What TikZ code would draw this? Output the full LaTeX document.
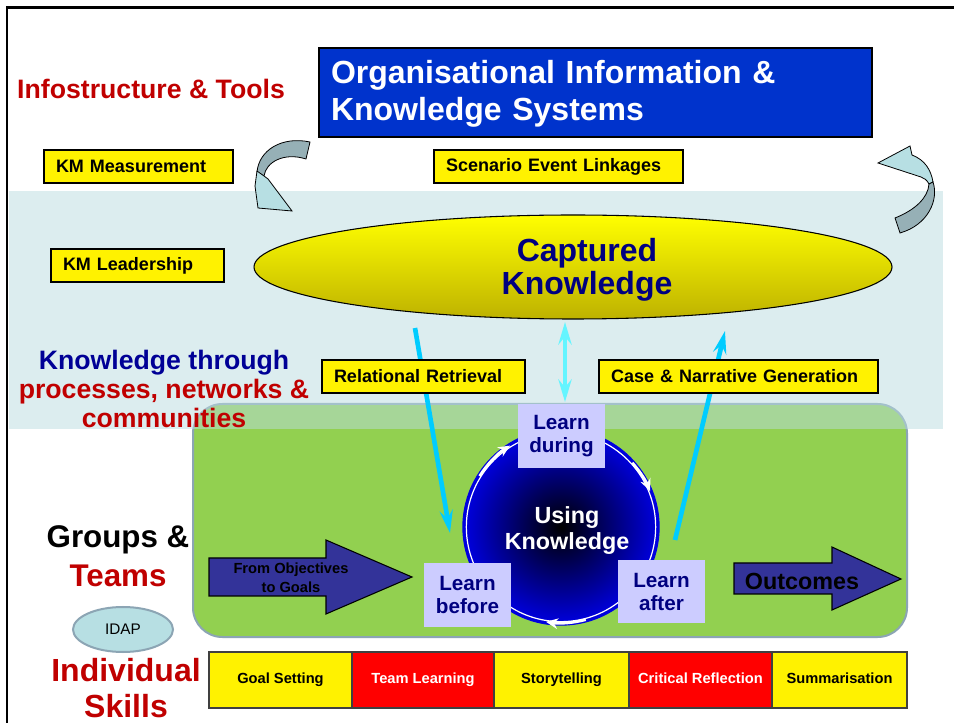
\documentclass[tikz,border=0pt]{standalone}
\usepackage{fontspec}
\setmainfont{Liberation Sans}
\usetikzlibrary{shapes.geometric,arrows.meta,fit}
\definecolor{dkred}{RGB}{192,0,0}
\definecolor{navyA}{RGB}{0,0,150}
\definecolor{navyB}{RGB}{0,0,128}
\definecolor{boxblue}{RGB}{0,51,204}
\definecolor{bandc}{RGB}{187,221,225}
\definecolor{grn}{RGB}{146,208,80}
\definecolor{grnedge}{RGB}{140,165,180}
\definecolor{lav}{RGB}{204,204,255}
\definecolor{arrblue}{RGB}{51,51,153}
\definecolor{cyanA}{RGB}{0,204,255}
\definecolor{cyanB}{RGB}{100,245,255}
\definecolor{idapc}{RGB}{183,223,227}
\definecolor{crvlight}{RGB}{183,223,227}
\definecolor{crvdark}{RGB}{150,176,182}
\definecolor{olivey}{RGB}{190,178,0}
\definecolor{cellred}{RGB}{255,0,0}
\definecolor{circblue}{RGB}{0,0,225}
\begin{document}
\begin{tikzpicture}[x=0.75pt,y=-0.75pt,
  ybox/.style={draw=black, line width=1.5pt, fill=yellow, anchor=north west,
    inner ysep=0pt, inner xsep=9pt, minimum height=24.75pt, align=left,
    font=\bfseries\fontsize{13.5}{16}\selectfont},
  cell/.style={draw=black!75, line width=0.8pt, inner sep=0pt, minimum height=42pt,
    text height=8pt, text depth=2.5pt,
    font=\bfseries\fontsize{11}{13}\selectfont},
  learnbox/.style={fill=lav, draw=none, inner sep=0pt, align=center, text=navyB,
    minimum width=65.25pt, minimum height=47.5pt,
    font=\bfseries\fontsize{15.5}{17.25}\selectfont},
  blockarrow/.style={fill=arrblue, draw=black, line width=0.8pt},
  curvearr/.style={draw=black, line width=0.6pt},
  cyanarrow/.style={cyanA, line width=3.5pt, -{Stealth[length=17pt,width=10pt,inset=6pt]}},
  whitearr/.style={white, line width=2pt, -{Stealth[length=9pt,width=8pt]}}
]
\useasboundingbox (0,0) rectangle (954,723);
\fill[white] (0,0) rectangle (954,723);

% groups & teams box
\node[fit={(193,404) (907,637)}, inner sep=0pt, rounded corners=22pt, fill=grn,
  draw=grnedge, line width=1.5pt] (grp) {};

% knowledge band
\fill[bandc, fill opacity=0.5] (9,191) rectangle (943,429);

% frame
\draw[line width=2pt] (7,723) -- (7,7.5) -- (954,7.5);

% left curved arrow
\fill[crvdark, curvearr] (310,142) .. controls (282,136) and (259,150) .. (257,172)
  -- (264,176) .. controls (266,162) and (284,152) .. (306,159) -- cycle;
\fill[crvlight, curvearr] (257,171) -- (264,176) -- (268,179) -- (292,211)
  -- (258,208) -- (255,186) -- cycle;

% right curved arrow
\fill[crvlight, curvearr] (878,163) -- (910,146) -- (912,155)
  .. controls (925,160) and (931,170) .. (933,182) -- (929,184)
  .. controls (927,180) and (924,178) .. (921,177) -- cycle;
\fill[crvdark, curvearr] (933,182) .. controls (939,200) and (928,225) .. (900,233)
  -- (895,218) .. controls (915,210) and (928,198) .. (929,184) -- cycle;

% title box
\node[draw=black, line width=1.5pt, fill=boxblue, anchor=north west, inner ysep=0pt,
  inner xsep=9pt, minimum height=66.75pt, text width=396.75pt, align=left, text=white,
  font=\bfseries\fontsize{24}{27.75}\selectfont] (oiks) at (318,47)
  {\rule{0pt}{19pt}Organisational Information \&\\Knowledge Systems};

% cyan arrows (behind yellow boxes)
\coordinate (rrS) at (415,328);
\coordinate (rrE) at (450,533);
\coordinate (caS) at (675,540);
\coordinate (caE) at (725,331);
\coordinate (dbS) at (565,322);
\coordinate (dbE) at (565,402);
\draw[cyanarrow] (rrS) -- (rrE);
\draw[cyanarrow] (caS) -- (caE);
\draw[cyanB, line width=2.8pt, {Stealth[length=17pt,width=10pt,inset=6pt]}-{Stealth[length=17pt,width=10pt,inset=6pt]}] (dbS) -- (dbE);

% yellow labels
\node[ybox, text width=123.75pt] (kmm) at (43,149) {KM Measurement};
\node[ybox, text width=168.75pt] (sel) at (433,149) {Scenario Event Linkages};
\node[ybox, text width=111.75pt] (kml) at (50,248) {KM Leadership};
\node[ybox, text width=134.25pt] (rr) at (321,359) {Relational Retrieval};
\node[ybox, text width=191.25pt] (cng) at (598,359) {Case \& Narrative Generation};

% captured knowledge
\node[ellipse, minimum width=478.5pt, minimum height=78pt, inner sep=0pt,
  top color=yellow, bottom color=olivey, draw=black, line width=0.8pt] (ck) at (573,267) {};
\node[align=center, text=navyB, font=\bfseries\fontsize{24}{24.75}\selectfont]
  (cktext) at (587,270) {Captured\\Knowledge};

% using knowledge circle
\node[circle, minimum size=147pt, inner sep=0pt, inner color=black,
  outer color=circblue, draw=circblue, line width=1pt] (uk) at (561,527) {};
\draw[white, line width=0.9pt] (uk.center) circle[radius=71pt];
\draw[whitearr] ([shift={(148:72pt)}]uk.center) arc[start angle=148, end angle=122, radius=72pt];
\draw[whitearr] ([shift={(42:72pt)}]uk.center) arc[start angle=42, end angle=22, radius=72pt];
\draw[whitearr] ([shift={(285:72pt)}]uk.center) arc[start angle=285, end angle=261, radius=72pt];
\node[align=center, text=white, font=\bfseries\fontsize{17.5}{19.5}\selectfont]
  (uktext) at (567,531) {Using\\Knowledge};

% learn boxes
\node[learnbox] (ld) at (561.5,436) {Learn\\during};
\node[learnbox] (lb) at (467.5,595) {Learn\\before};
\node[learnbox] (la) at (661.5,591.5) {Learn\\after};

% block arrows
\draw[blockarrow] (209,558) -- (326,558) -- (326,540) -- (412,577) -- (326,614)
  -- (326,596) -- (209,596) -- cycle;
\node[align=center, font=\bfseries\fontsize{11}{14.25}\selectfont] (fog) at (291,577.5)
  {From Objectives\\to Goals};
\draw[blockarrow] (734,563) -- (832,563) -- (832,547) -- (901,579) -- (832,610)
  -- (832,594) -- (734,594) -- cycle;
\node[font=\bfseries\fontsize{17.5}{20}\selectfont] (out) at (802,581) {Outcomes};

% side labels
\node[text=dkred, font=\bfseries\fontsize{20}{24}\selectfont] (infra) at (151,89)
  {Infostructure \& Tools};
\node[align=center, font=\bfseries\fontsize{20}{21.75}\selectfont] (ktp) at (164,389)
  {\textcolor{navyA}{Knowledge through}\\\textcolor{dkred}{processes, networks \&}\\\textcolor{dkred}{communities}};
\node[align=center, font=\bfseries\fontsize{23.5}{29}\selectfont] (gt) at (118,556)
  {Groups \&\\\textcolor{dkred}{Teams}};
\node[align=center, text=dkred, font=\bfseries\fontsize{24}{27}\selectfont] (is) at (126,688)
  {Individual\\Skills};

% IDAP
\node[ellipse, minimum width=75pt, minimum height=33.75pt, inner sep=0pt, fill=idapc,
  draw=grnedge, line width=1.5pt, font=\fontsize{11.5}{13}\selectfont] (idap) at (123,629.5) {IDAP};

% skill cells
\node[cell, fill=yellow, minimum width=107.25pt] (c1) at (280.5,680) {Goal Setting};
\node[cell, fill=cellred, text=white, minimum width=106.5pt] (c2) at (423,680) {Team Learning};
\node[cell, fill=yellow, minimum width=101.25pt] (c3) at (561.5,680) {Storytelling};
\node[cell, fill=cellred, text=white, minimum width=107.25pt] (c4) at (700.5,680) {Critical Reflection};
\node[cell, fill=yellow, minimum width=101.25pt] (c5) at (839.5,680) {Summarisation};
\end{tikzpicture}
\end{document}
